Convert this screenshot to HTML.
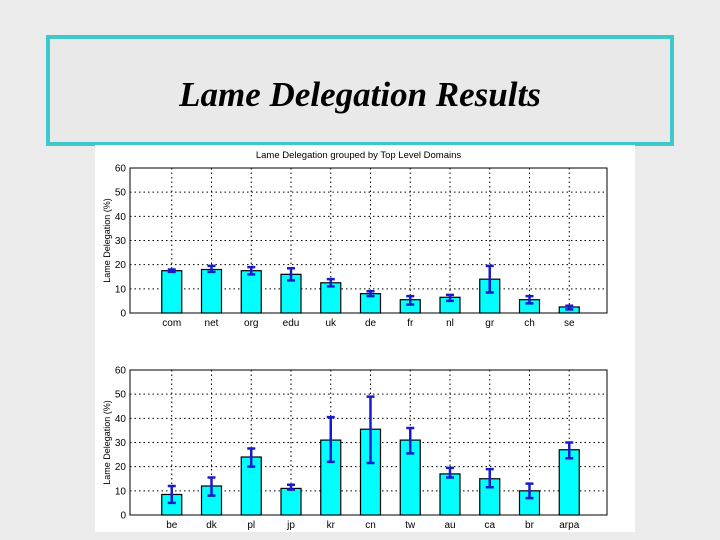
<!DOCTYPE html>
<html><head><meta charset="utf-8"><style>
html,body{margin:0;padding:0;background:#ebebeb;width:720px;height:540px;overflow:hidden;position:relative}
#title-box{position:absolute;left:46px;top:35px;width:620px;height:103px;border:4px solid #3cc8cc;background:#e9e9e9}
#title-box span{position:absolute;left:0;right:0;top:36px;text-align:center;font:italic bold 35px "Liberation Serif",serif;color:#000}
svg{position:absolute;left:0;top:0}
</style></head><body>
<div id="title-box"><span>Lame Delegation Results</span></div>
<svg id="svg" width="720" height="540"></svg>
<script>
const topCats=["com","net","org","edu","uk","de","fr","nl","gr","ch","se"];
const topVals=[17.5,18,17.5,16,12.5,8,5.5,6.5,14,5.5,2.5];
const topLo=[17,17,16,13.5,11,7,3.5,5,8.5,4,1.5];
const topHi=[18,19.5,19,18.5,14,9,7,7.5,19.5,7,3];
const botCats=["be","dk","pl","jp","kr","cn","tw","au","ca","br","arpa"];
const botVals=[8.5,12,24,11,31,35.5,31,17,15,10,27];
const botLo=[5,8,20,10.5,22,21.5,25.5,15.5,11.5,7,23.5];
const botHi=[12,15.5,27.5,12.5,40.5,49,36,19.5,19,13,30];
const yTicks=[0,10,20,30,40,50,60];

const svg=document.getElementById('svg');
const NS='http://www.w3.org/2000/svg';
function mk(tag,attrs,parent){const e=document.createElementNS(NS,tag);for(const k in attrs)e.setAttribute(k,attrs[k]);(parent||svg).appendChild(e);return e;}
const bg=mk('rect',{x:95,y:145,width:540,height:387,fill:'#fff'});



function panel(name,top,cats,vals,lo,hi,title){
  const L=130,R=607,T=top,B=top+145;
  const g=mk('g',{});
  
  
  const x=i=>L+(R-L)*(i+1)/12+2;
  const y=v=>B-(B-T)*v/60;
  yTicks.forEach(t=>{
    if(t>0&&t<60){const l=mk('line',{x1:L,x2:R,y1:y(t),y2:y(t),stroke:'#000','stroke-width':1,'stroke-dasharray':'1.5,3'},g);
    }
    const tx=mk('text',{x:L-4,y:y(t)+3.5,'text-anchor':'end','font-family':'Liberation Sans, sans-serif','font-size':10},g);
    tx.textContent=t;
    
    
  });
  cats.forEach((c,i)=>{
    const l=mk('line',{x1:x(i),x2:x(i),y1:T,y2:B,stroke:'#000','stroke-width':1,'stroke-dasharray':'1.5,3'},g);
    
  });
  cats.forEach((c,i)=>{
    const b=mk('rect',{x:x(i)-10,y:y(vals[i]),width:20,height:B-y(vals[i]),fill:'#00ffff',stroke:'#000','stroke-width':1.2},g);
    
    
    const e=mk('path',{d:`M${x(i)},${y(lo[i])}V${y(hi[i])}M${x(i)-4},${y(lo[i])}h8M${x(i)-4},${y(hi[i])}h8`,stroke:'#1a1ad0','stroke-width':2.5,fill:'none'},g);
    
    
    const t=mk('text',{x:x(i),y:B+13,'text-anchor':'middle','font-family':'Liberation Sans, sans-serif','font-size':10},g);
    t.textContent=c;
    
    
  });
  const fr=mk('rect',{x:L,y:T,width:R-L,height:B-T,fill:'none',stroke:'#000','stroke-width':1},g);
  
  const yl=mk('text',{transform:`translate(110,${(T+B)/2}) rotate(-90)`,'text-anchor':'middle','font-family':'Liberation Sans, sans-serif','font-size':9},g);
  yl.textContent='Lame Delegation (%)';
  
  
  if(title){const tt=mk('text',{x:(L+R)/2-10,y:T-10,'text-anchor':'middle','font-family':'Liberation Sans, sans-serif','font-size':9.5},g);
    tt.textContent=title;
    
    }
}
panel('top-chart',168,topCats,topVals,topLo,topHi,'Lame Delegation grouped by Top Level Domains');
panel('bottom-chart',370,botCats,botVals,botLo,botHi,null);
</script>
</body></html>
